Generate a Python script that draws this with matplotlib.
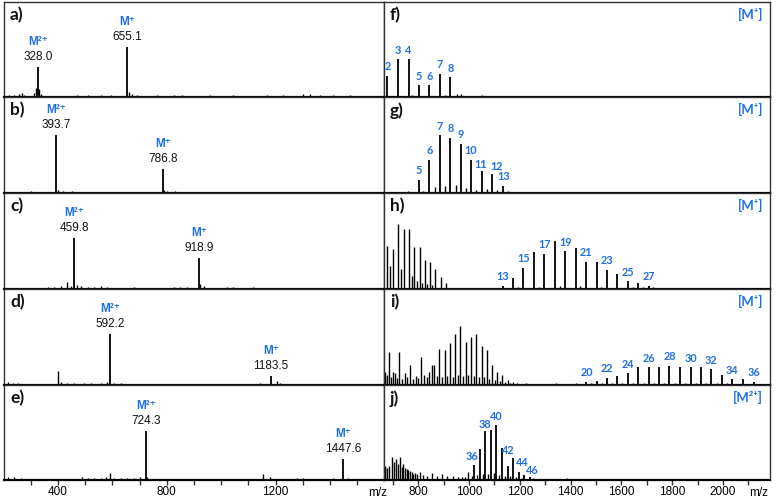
import matplotlib.pyplot as plt
from matplotlib.ticker import MultipleLocator

BLUE = '#1f6fe5'
NUM_FONT = ['Liberation Sans', 'DejaVu Sans']
LAB_FONT = ['Lato', 'DejaVu Sans']

# ---------------- left column, a) - e) ----------------
left_ions = ['M²⁺', 'M⁺']

a_mz = [328.0, 655.1]
a_int = [30, 50]
a_noise_mz = [222, 240, 258, 267, 277, 313, 320, 332, 338, 374, 435, 472, 509, 557, 594,
              661, 673, 692, 740, 765, 825, 856, 960, 1045, 1106, 1167, 1228, 1301, 1325,
              1362, 1411, 1472]
a_noise_int = [2, 2, 3, 4, 2, 4, 9, 8, 3, 1, 1, 2, 2, 2, 2,
               5, 3, 2, 1, 2, 2, 2, 2, 2, 1, 2, 2, 3, 3,
               2, 2, 2]

b_mz = [393.7, 786.8]
b_int = [58, 24]
b_noise_mz = [215, 260, 300, 350, 400, 420, 450, 480, 700, 740, 790, 800, 830, 860, 900,
              940, 1000, 1200, 1300, 1520]
b_noise_int = [1, 1, 2, 1, 3, 2, 2, 1, 1, 1, 3, 2, 2, 1, 1,
               1, 1, 1, 1, 1]

c_mz = [459.8, 918.9]
c_int = [51, 31]
c_noise_mz = [277, 362, 387, 411, 435, 448, 472, 484, 509, 533, 557, 582, 618, 655, 679,
              765, 801, 825, 850, 874, 923, 935, 960, 1021, 1045, 1069, 1118, 1155, 1204,
              1252, 1325, 1533]
c_noise_int = [1, 2, 2, 3, 7, 3, 4, 3, 2, 2, 3, 2, 1, 1, 2,
               1, 1, 2, 2, 2, 5, 3, 1, 2, 2, 1, 2, 1, 1,
               1, 1, 1]

d_mz = [592.2, 1183.5]
d_int = [51, 9]
d_noise_mz = [216, 234, 253, 271, 313, 350, 401, 411, 435, 460, 496, 521, 557, 582, 606,
              630, 655, 679, 728, 789, 960, 1021, 1069, 1143, 1204, 1216, 1240, 1264]
d_noise_int = [3, 2, 2, 1, 1, 1, 14, 3, 2, 2, 2, 2, 2, 3, 2,
               2, 1, 1, 1, 1, 1, 1, 1, 2, 4, 2, 1, 1]

e_mz = [724.3, 1447.6]
e_int = [49, 21]
e_noise_mz = [216, 240, 265, 301, 350, 411, 435, 460, 490, 509, 533, 557, 575, 591, 606,
              630, 655, 679, 701, 728, 765, 838, 886, 984, 1045, 1118, 1155, 1179, 1216,
              1252, 1277, 1301, 1350, 1411, 1466, 1508]
e_noise_int = [3, 3, 2, 1, 1, 1, 1, 1, 3, 2, 2, 2, 3, 7, 2,
               2, 2, 2, 3, 3, 1, 1, 1, 1, 1, 1, 6, 3, 1,
               1, 2, 2, 1, 2, 2, 1]

# ---------------- right column, f) - j) ----------------
f_n = [2, 3, 4, 5, 6, 7, 8]
f_mz = [678, 719, 762, 803, 843, 885, 926]
f_int = [21, 38, 38, 12, 12, 23, 20]
f_show = [2, 3, 4, 5, 6, 7, 8]
f_other_mz = [774, 905, 951, 967, 1049]
f_other_int = [2, 2, 3, 3, 2]

g_n = [5, 6, 7, 8, 9, 10, 11, 12, 13]
g_mz = [803, 843, 885, 926, 967, 1007, 1049, 1091, 1133]
g_int = [13, 33, 58, 55, 49, 33, 22, 19, 7]
g_show = [5, 6, 7, 8, 9, 10, 11, 12, 13]
g_other_mz = [715, 735, 761, 820, 866, 905, 948, 988, 1029, 1069, 1111, 1154, 1174, 1200,
              1226, 1259, 1305, 1331, 1357, 1383, 1410, 1436, 1462, 1501]
g_other_int = [1, 1, 2, 2, 6, 7, 8, 5, 3, 4, 3, 2, 1, 1,
               1, 1, 1, 1, 1, 1, 1, 1, 1, 1]
g_nudge = {11: (-1, 7), 12: (4, 8), 13: (1, 9)}

h_n = [13, 14, 15, 16, 17, 18, 19, 20, 21, 22, 23, 24, 25, 26, 27]
h_mz = [1132, 1174, 1213, 1255, 1296, 1337, 1378, 1420, 1461, 1502, 1542, 1584, 1626, 1667, 1709]
h_int = [3, 11, 21, 37, 35, 48, 38, 41, 27, 27, 19, 15, 8, 6, 3]
h_show = [13, 15, 17, 19, 21, 23, 25, 27]
h_other_mz = [678, 689, 699, 721, 731, 744, 765, 774, 784, 796, 807, 816, 826, 835, 846,
              855, 866, 888, 908, 951, 964, 1003, 1043, 1082, 1115, 1193, 1276, 1357, 1436,
              1521, 1646, 1685, 1724, 1764, 1803, 1829, 1869, 1908, 1948, 1973]
h_other_int = [43, 23, 40, 65, 20, 60, 60, 13, 42, 8, 42, 6, 29, 5, 27,
               4, 20, 12, 6, 1, 1, 1, 1, 1, 1, 2, 2, 3, 3,
               2, 2, 2, 2, 1, 1, 1, 1, 1, 1, 1]

i_n = [20, 21, 22, 23, 24, 25, 26, 27, 28, 29, 30, 31, 32, 33, 34, 35, 36]
i_mz = [1462, 1502, 1542, 1584, 1625, 1667, 1708, 1748, 1789, 1830, 1872, 1912, 1954, 1996,
        2037, 2079, 2121]
i_int = [3, 4, 7, 9, 12, 18, 18, 18, 19, 18, 18, 18, 16, 10, 6, 6, 3]
i_show = [20, 22, 24, 26, 28, 30, 32, 34, 36]
i_other_mz = [669, 686, 699, 708, 725, 748, 767, 791, 809, 822, 843, 853, 863, 883, 905,
              925, 946, 965, 986, 1007, 1028, 1049, 1069, 1091, 1111, 1130, 1152, 1174, 1223,
              667, 676, 693, 715, 735, 757, 778, 800, 833, 872, 892, 914, 935, 956, 977,
              997, 1018, 1039, 1060, 1079, 1102, 1121, 1141, 1161, 1187, 1266, 1305, 1344,
              1384, 1423, 1482, 1522, 1563, 1604, 1646, 1687, 1728, 1769, 1810, 1851, 1892,
              1933, 1975, 2016, 2058, 2100]
i_other_int = [13, 33, 13, 12, 33, 12, 20, 9, 28, 10, 13, 20, 20, 36, 35,
               42, 51, 59, 43, 48, 51, 39, 35, 20, 13, 10, 5, 3, 2,
               8, 10, 8, 7, 6, 8, 6, 7, 8, 9, 8, 9, 8, 10, 9,
               10, 9, 8, 8, 6, 5, 4, 3, 2, 2, 1, 1, 2,
               1, 2, 2, 2, 2, 2, 2, 2, 2, 2, 2, 2, 2,
               2, 2, 2, 1, 1]

j_n = [36, 37, 38, 39, 40, 41, 42, 43, 44, 45, 46]
j_mz = [1020, 1043, 1064, 1086, 1107, 1129, 1152, 1174, 1196, 1217, 1239]
j_int = [15, 31, 49, 50, 55, 32, 14, 22, 8, 5, 3]
j_show = [36, 38, 40, 42, 44, 46]
j_other_mz = [669, 678, 695, 712, 728, 741, 754, 767, 780, 807, 853, 894, 938, 971, 997,
              667, 686, 704, 721, 735, 748, 761, 774, 787, 794, 820, 833, 872, 912, 957,
              984, 1010, 1032, 1053, 1075, 1097, 1119, 1141, 1163, 1184, 1207, 1252, 1305,
              1357, 1384, 1436, 1469, 1515, 1567, 1594, 1646, 1699, 1764, 1790, 1829, 1882,
              1921, 1960]
j_other_int = [14, 12, 23, 21, 23, 16, 11, 9, 6, 8, 7, 6, 4, 3, 8,
               13, 14, 18, 16, 13, 12, 10, 8, 7, 6, 5, 4, 4, 4, 3,
               3, 4, 5, 6, 6, 7, 5, 4, 4, 3, 2, 2, 1,
               1, 2, 1, 1, 1, 1, 1, 1, 1, 1, 1, 1, 1,
               1, 1]
# label nudges in px (dx, dy above the peak top)
j_nudge = {36: (-2, 8), 38: (0, 6), 42: (1, 16), 44: (3, 10), 46: (3, 7)}

left_panels = [
    ('a)', a_mz, a_int, a_noise_mz, a_noise_int),
    ('b)', b_mz, b_int, b_noise_mz, b_noise_int),
    ('c)', c_mz, c_int, c_noise_mz, c_noise_int),
    ('d)', d_mz, d_int, d_noise_mz, d_noise_int),
    ('e)', e_mz, e_int, e_noise_mz, e_noise_int),
]
right_panels = [
    ('f)', '[M⁺]', f_n, f_mz, f_int, f_show, f_other_mz, f_other_int, {}),
    ('g)', '[M⁺]', g_n, g_mz, g_int, g_show, g_other_mz, g_other_int, g_nudge),
    ('h)', '[M⁺]', h_n, h_mz, h_int, h_show, h_other_mz, h_other_int, {}),
    ('i)', '[M⁺]', i_n, i_mz, i_int, i_show, i_other_mz, i_other_int, {}),
    ('j)', '[M²⁺]', j_n, j_mz, j_int, j_show, j_other_mz, j_other_int, j_nudge),
]

W, H = 776, 500
PT = 0.72  # points per pixel at 100 dpi
col_x = [(4, 384), (384, 770)]
row_y = [2, 97, 193, 289, 385, 480]

fig = plt.figure(figsize=(W / 100, H / 100), dpi=100)


def make_axes(col, row):
    x0, x1 = col_x[col]
    y0, y1 = row_y[row], row_y[row + 1]
    ax = fig.add_axes([x0 / W, 1 - y1 / H, (x1 - x0) / W, (y1 - y0) / H])
    ax.set_ylim(0, y1 - y0)
    for s in ax.spines.values():
        s.set_color('#333333')
        s.set_linewidth(1.0)
    ax.spines['bottom'].set_color('black')
    ax.spines['bottom'].set_linewidth(1.6)
    ax.tick_params(left=False, labelleft=False)
    if row < 4:
        ax.tick_params(bottom=False, labelbottom=False)
    else:
        ax.tick_params(axis='x', which='both', direction='out', length=3.5, width=1.0,
                       pad=0.5, labelsize=8.5, color='#333333')
    return ax


def letter(ax, txt):
    ax.annotate(txt, (0, 1), xycoords='axes fraction', xytext=(6 * PT, -5 * PT),
                textcoords='offset points', ha='left', va='top', fontsize=12.5,
                fontweight='bold', family=LAB_FONT, color='#111111')


for r, (tag, mz, inten, nmz, nint) in enumerate(left_panels):
    ax = make_axes(0, r)
    ax.set_xlim(202, 1598)
    ax.vlines(nmz, 0, nint, color='black', lw=1.0)
    ax.vlines(mz, 0, inten, color='black', lw=1.3)
    for ion, m, h in zip(left_ions, mz, inten):
        ax.annotate(f'{m:.1f}', (m, h), xytext=(0, 10 * PT), textcoords='offset points',
                    ha='center', va='center', fontsize=8.5, family=NUM_FONT, color='#111111')
        ax.annotate(ion, (m, h), xytext=(0, 25 * PT), textcoords='offset points',
                    ha='center', va='center', fontsize=8.5, fontweight='bold',
                    family=NUM_FONT, color=BLUE)
    letter(ax, tag)
    if r == 4:
        ax.set_xticks([400, 800, 1200])
        ax.xaxis.set_minor_locator(MultipleLocator(100))
        ax.annotate('m/z', (1, 0), xycoords='axes fraction', xytext=(2, -5),
                    textcoords='offset points', ha='right', va='top', fontsize=8.5,
                    family=NUM_FONT)

for r, (tag, ion, n, mz, inten, show, omz, oint, nudge) in enumerate(right_panels):
    ax = make_axes(1, r)
    ax.set_xlim(665, 2185)
    ax.vlines(omz, 0, oint, color='black', lw=1.0)
    ax.vlines(mz, 0, inten, color='black', lw=1.3)
    for k, m, h in zip(n, mz, inten):
        if k not in show:
            continue
        dx, dy = nudge.get(k, (0, 9))
        ax.annotate(str(k), (m, h), xytext=(dx * PT, dy * PT), textcoords='offset points',
                    ha='center', va='center', fontsize=7.8, fontweight='bold',
                    family=LAB_FONT, color=BLUE)
    letter(ax, tag)
    ax.annotate(ion, (1, 1), xycoords='axes fraction', xytext=(-7 * PT, -6 * PT),
                textcoords='offset points', ha='right', va='top', fontsize=9.5,
                fontweight='bold', family=LAB_FONT, color=BLUE)
    if r == 4:
        ax.set_xticks([800, 1000, 1200, 1400, 1600, 1800, 2000])
        ax.xaxis.set_minor_locator(MultipleLocator(100))
        ax.annotate('m/z', (1, 0), xycoords='axes fraction', xytext=(-1, -5),
                    textcoords='offset points', ha='right', va='top', fontsize=8.5,
                    family=NUM_FONT)

for ax in fig.axes:
    for lab in ax.get_xticklabels():
        lab.set_family(NUM_FONT)

fig.savefig('out.png', dpi=100)
